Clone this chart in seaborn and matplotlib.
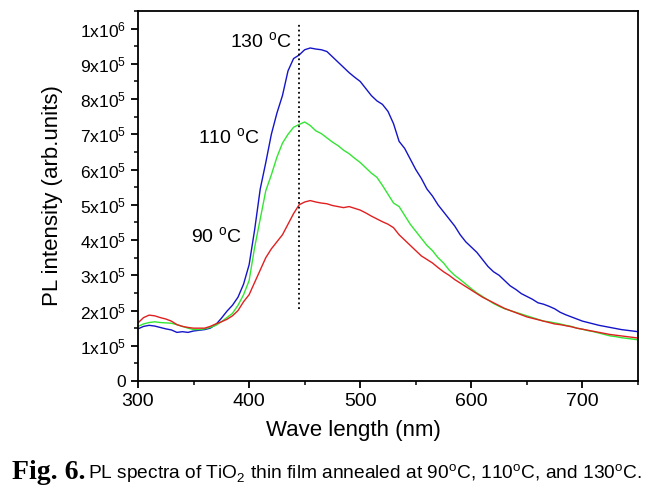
import numpy as np
import pandas as pd
import seaborn as sns
import matplotlib.pyplot as plt
from matplotlib.ticker import MultipleLocator, FuncFormatter

# wavelength grid (nm) and PL intensities (units of 1e5)
wavelength = list(range(300, 755, 5))

pl_130 = [1.48, 1.55, 1.58, 1.56, 1.52, 1.48, 1.45, 1.38, 1.40, 1.38,
          1.42, 1.44, 1.46, 1.50, 1.60, 1.78, 1.98, 2.15, 2.38, 2.75,
          3.30, 4.30, 5.45, 6.20, 7.00, 7.60, 8.10, 8.80, 9.15, 9.25,
          9.40, 9.45, 9.42, 9.40, 9.35, 9.20, 9.05, 8.90, 8.75, 8.62,
          8.50, 8.30, 8.10, 7.95, 7.85, 7.65, 7.30, 6.80, 6.60, 6.30,
          6.00, 5.75, 5.45, 5.25, 5.00, 4.80, 4.60, 4.40, 4.15, 3.95,
          3.80, 3.65, 3.45, 3.25, 3.10, 3.00, 2.85, 2.70, 2.60, 2.48,
          2.40, 2.32, 2.22, 2.18, 2.12, 2.05, 1.95, 1.88, 1.82, 1.76,
          1.70, 1.66, 1.62, 1.58, 1.55, 1.52, 1.49, 1.46, 1.44, 1.42,
          1.40]

pl_110 = [1.55, 1.62, 1.66, 1.68, 1.66, 1.65, 1.64, 1.60, 1.55, 1.50,
          1.46, 1.46, 1.48, 1.52, 1.58, 1.68, 1.80, 1.92, 2.15, 2.45,
          2.85, 3.80, 4.60, 5.40, 5.85, 6.35, 6.75, 7.00, 7.20, 7.28,
          7.35, 7.25, 7.10, 7.02, 6.90, 6.78, 6.68, 6.55, 6.45, 6.32,
          6.20, 6.05, 5.90, 5.78, 5.55, 5.30, 5.05, 4.95, 4.70, 4.45,
          4.25, 4.05, 3.85, 3.70, 3.50, 3.35, 3.15, 3.00, 2.88, 2.75,
          2.62, 2.50, 2.40, 2.30, 2.20, 2.12, 2.05, 2.00, 1.95, 1.90,
          1.85, 1.80, 1.75, 1.70, 1.68, 1.65, 1.62, 1.58, 1.55, 1.50,
          1.47, 1.43, 1.40, 1.36, 1.32, 1.28, 1.26, 1.23, 1.21, 1.19,
          1.17]

pl_90 = [1.65, 1.80, 1.87, 1.85, 1.80, 1.76, 1.70, 1.60, 1.55, 1.52,
         1.50, 1.50, 1.50, 1.55, 1.62, 1.68, 1.75, 1.85, 2.00, 2.25,
         2.45, 2.80, 3.15, 3.50, 3.75, 3.95, 4.15, 4.45, 4.75, 5.00,
         5.08, 5.12, 5.08, 5.05, 5.03, 4.98, 4.95, 4.92, 4.95, 4.90,
         4.85, 4.77, 4.68, 4.60, 4.52, 4.45, 4.35, 4.15, 4.00, 3.85,
         3.70, 3.55, 3.45, 3.35, 3.22, 3.10, 3.00, 2.88, 2.78, 2.68,
         2.58, 2.48, 2.38, 2.30, 2.22, 2.14, 2.06, 2.00, 1.94, 1.88,
         1.82, 1.78, 1.74, 1.70, 1.66, 1.62, 1.60, 1.57, 1.54, 1.50,
         1.47, 1.44, 1.41, 1.38, 1.35, 1.32, 1.30, 1.28, 1.26, 1.24,
         1.22]

series_names = ['130', '110', '90']
series_colors = ['#1414c8', '#33e633', '#e02020']

df = pd.DataFrame({
    'wavelength': wavelength * 3,
    'intensity': np.array(pl_130 + pl_110 + pl_90) * 1e5,
    'temp': [n for n in series_names for _ in wavelength],
})

sns.set_style('ticks')
plt.rcParams['font.family'] = ['Liberation Sans', 'DejaVu Sans']
plt.rcParams['mathtext.fontset'] = 'custom'
plt.rcParams['mathtext.rm'] = 'Liberation Sans'
plt.rcParams['text.color'] = 'black'
plt.rcParams['axes.labelcolor'] = 'black'
plt.rcParams['xtick.color'] = 'black'
plt.rcParams['ytick.color'] = 'black'

fig = plt.figure(figsize=(6.62, 4.9), dpi=100)
ax = fig.add_axes([0.2085, 0.2224, 0.7552, 0.7552])

sns.lineplot(data=df, x='wavelength', y='intensity', hue='temp',
             palette=dict(zip(series_names, series_colors)),
             linewidth=1.0, legend=False, ax=ax)

ax.vlines(445, 2.05e5, 1.02e6, colors='k', linestyles=':', linewidth=1.3)

ax.set_xlim(300, 750)
ax.set_ylim(0, 1.05e6)
ax.xaxis.set_major_locator(MultipleLocator(100))
ax.xaxis.set_minor_locator(MultipleLocator(50))
ax.yaxis.set_major_locator(MultipleLocator(1e5))
ax.yaxis.set_minor_locator(MultipleLocator(5e4))


def sci_label(v, pos):
    if v < 1:
        return '0'
    exp = int(np.floor(np.log10(v) + 1e-9))
    mant = int(round(v / 10 ** exp))
    return r'$\mathregular{%dx10^{%d}}$' % (mant, exp)


ax.yaxis.set_major_formatter(FuncFormatter(sci_label))

for side in ['top', 'right', 'left', 'bottom']:
    ax.spines[side].set_linewidth(1.3)
    ax.spines[side].set_color('black')
ax.tick_params(which='major', direction='out', length=5, width=1.3,
               colors='black', labelsize=12.5)
ax.tick_params(axis='x', which='major', labelsize=14)
ax.tick_params(which='minor', direction='out', length=3, width=1.1)

ax.set_xlabel('Wave length (nm)', fontsize=16)
ax.xaxis.set_label_coords(0.43, -0.105)
ax.set_ylabel('PL intensity (arb.units)', fontsize=16, labelpad=12)

ax.text(383, 9.63e5, r'130 $^{\mathregular{o}}$C', fontsize=14, va='center')
ax.text(354, 6.9e5, r'110 $^{\mathregular{o}}$C', fontsize=14, va='center')
ax.text(348, 4.1e5, r'90 $^{\mathregular{o}}$C', fontsize=14, va='center')

fig.text(0.018, 0.0225, 'Fig. 6.', fontsize=20, fontweight='bold',
         family='Liberation Serif')
fig.text(0.133, 0.0225,
         r'PL spectra of TiO$_\mathregular{2}$ thin film annealed at '
         r'90$^\mathregular{o}$C, 110$^\mathregular{o}$C, and 130$^\mathregular{o}$C.',
         fontsize=13.8)

fig.savefig('out.png', dpi=100)
